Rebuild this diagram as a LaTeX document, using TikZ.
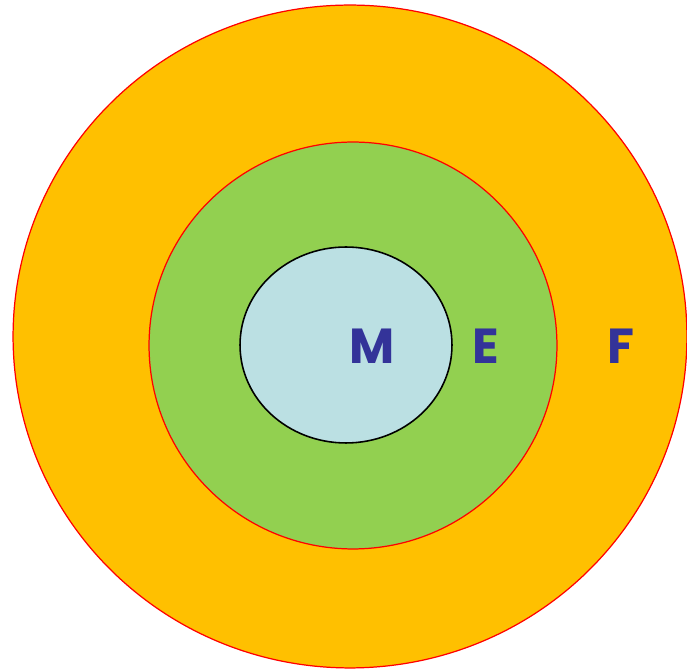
\documentclass[tikz,border=0pt]{standalone}
\usepackage{fontspec}
\setsansfont{Poppins}
\usepackage{xcolor}
\definecolor{ringyellow}{HTML}{FFC000}
\definecolor{ringgreen}{HTML}{92D050}
\definecolor{corefill}{HTML}{BBE0E3}
\definecolor{letterblue}{HTML}{333399}
\usepackage{tikz}
\usetikzlibrary{shapes.geometric,positioning}

\begin{document}
\begin{tikzpicture}[
        x=0.02cm, y=-0.02cm,
        % --- ring styles ---
        ring/.style={
            ellipse, draw=red, line width=0.7pt, inner sep=0pt
        },
        core/.style={
            ellipse, draw=black, line width=0.9pt, inner sep=0pt,
            fill=corefill
        },
        % --- label style ---
        setlabel/.style={
            font=\sffamily\bfseries\fontsize{28}{28}\selectfont,
            text=letterblue, inner sep=0pt
        }
    ]

    % frame of the picture
    \useasboundingbox (0,0) rectangle (687,671);

    % --- nested sets ---
    \node[ring, fill=ringyellow, minimum width=13.48cm, minimum height=13.26cm]
        (outer) at (350,336.5) {};
    \node[ring, fill=ringgreen, minimum width=8.16cm, minimum height=8.14cm]
        (middle) at (353,345.5) {};
    \node[core, minimum width=4.24cm, minimum height=3.92cm]
        (inner) at (346,345) {};

    % --- labels ---
    \node[setlabel] (labM) at (372,346) {M};
    \node[setlabel] (labE) at (486,346) {E};
    \node[setlabel] (labF) at (621,346) {F};

\end{tikzpicture}
\end{document}
